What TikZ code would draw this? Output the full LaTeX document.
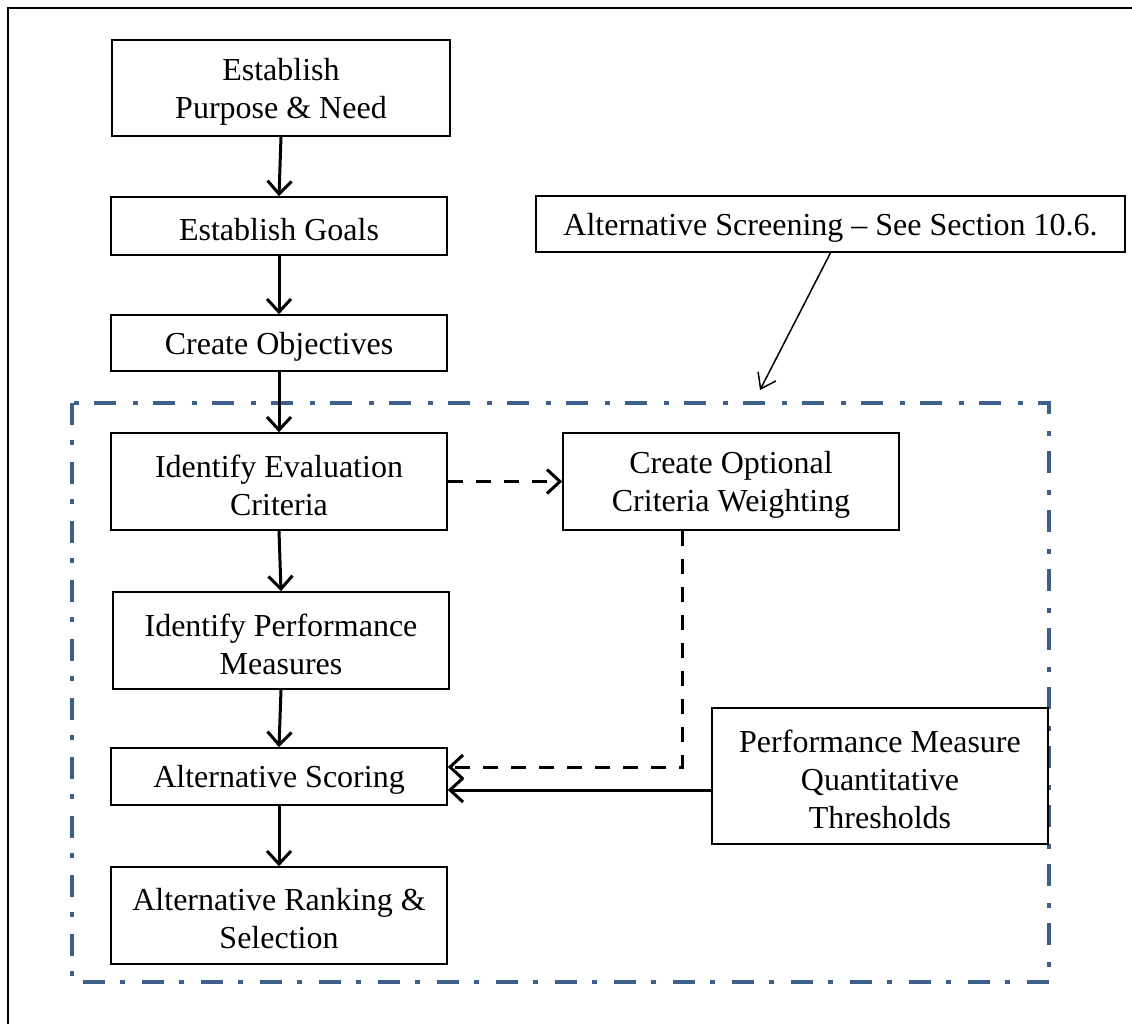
\documentclass[tikz,border=0pt]{standalone}
\usepackage{fontspec}
\setmainfont{Liberation Serif}
\usetikzlibrary{arrows.meta}
\definecolor{frameblue}{HTML}{3E5F8A}
\begin{document}
\begin{tikzpicture}[x=1pt,y=-1pt,
  box/.style={draw, line width=1.6pt, inner sep=0pt},
  txt/.style={inner sep=0pt, align=center, yshift=-3.5pt,
    font=\fontsize{32}{38}\selectfont},
  arr/.style={line width=3pt, -{Straight Barb[length=13pt,width=24pt,line width=3pt]}},
  dasharr/.style={arr, dash pattern=on 15pt off 13pt},
  thinarr/.style={line width=1.5pt, -{Straight Barb[length=14pt,width=20pt,line width=1.5pt]}},
  frame/.style={draw=frameblue, line width=4.5pt, dash pattern=on 22pt off 15pt on 5pt off 17pt}
]
\useasboundingbox (0,0) rectangle (1132,1023);
% outer frame (partly cut)
\draw[line width=2.5pt] (8,1040) -- (8,8) -- (1150,8);
% dash-dot region
\draw[frame] (72,403) rectangle (1049,982);
% boxes
\node[box, minimum width=338pt, minimum height=96pt] (b1) at (281,88) {};
\node[box, minimum width=336pt, minimum height=58pt] (b2) at (279,226) {};
\node[box, minimum width=336pt, minimum height=56pt] (b3) at (279,343) {};
\node[box, minimum width=336pt, minimum height=97pt] (b4) at (279,481.5) {};
\node[box, minimum width=336pt, minimum height=97pt] (b5) at (731,481.5) {};
\node[box, minimum width=336pt, minimum height=97pt] (b6) at (281,640.5) {};
\node[box, minimum width=336pt, minimum height=57pt] (b7) at (279,776.5) {};
\node[box, minimum width=336pt, minimum height=97pt] (b8) at (279,915.5) {};
\node[box, minimum width=336pt, minimum height=136pt] (b9) at (880,776) {};
\node[box, minimum width=589pt, minimum height=56pt] (b10) at (830.5,224) {};
% texts
\node[txt] (t1) at (b1.center) {Establish\\Purpose \& Need};
\node[txt] (t2) at (b2.center) {Establish Goals};
\node[txt] (t3) at (b3.center) {Create Objectives};
\node[txt] (t4) at (b4.center) {Identify Evaluation\\Criteria};
\node[txt] (t5) at (b5.center) {Create Optional\\Criteria Weighting};
\node[txt] (t6) at (b6.center) {Identify Performance\\Measures};
\node[txt] (t7) at (b7.center) {Alternative Scoring};
\node[txt] (t8) at (b8.center) {Alternative Ranking \&\\Selection};
\node[txt] (t9) at (b9.center) {Performance Measure\\Quantitative\\Thresholds};
\node[txt] (t10) at (b10.center) {Alternative Screening -- See Section 10.6.};
% connectors
\draw[arr] (b1.south) -- (b2.north);
\draw[arr] (b2.south) -- (b3.north);
\draw[arr] (b3.south) -- (b4.north);
\draw[arr] (b4.south) -- (b6.north);
\draw[arr] (b6.south) -- (b7.north);
\draw[arr] (b7.south) -- (b8.north);
\draw[dasharr] (b4.east) -- (b5.west);
\draw[dasharr] ([xshift=-49pt]b5.south) |- ([yshift=9.5pt]b7.east);
\draw[arr] ([yshift=-14pt]b9.west) -- ([yshift=-13.5pt]b7.east);
\coordinate (tip) at (760,390);
\draw[thinarr] (b10.south) -- (tip);
\end{tikzpicture}
\end{document}
